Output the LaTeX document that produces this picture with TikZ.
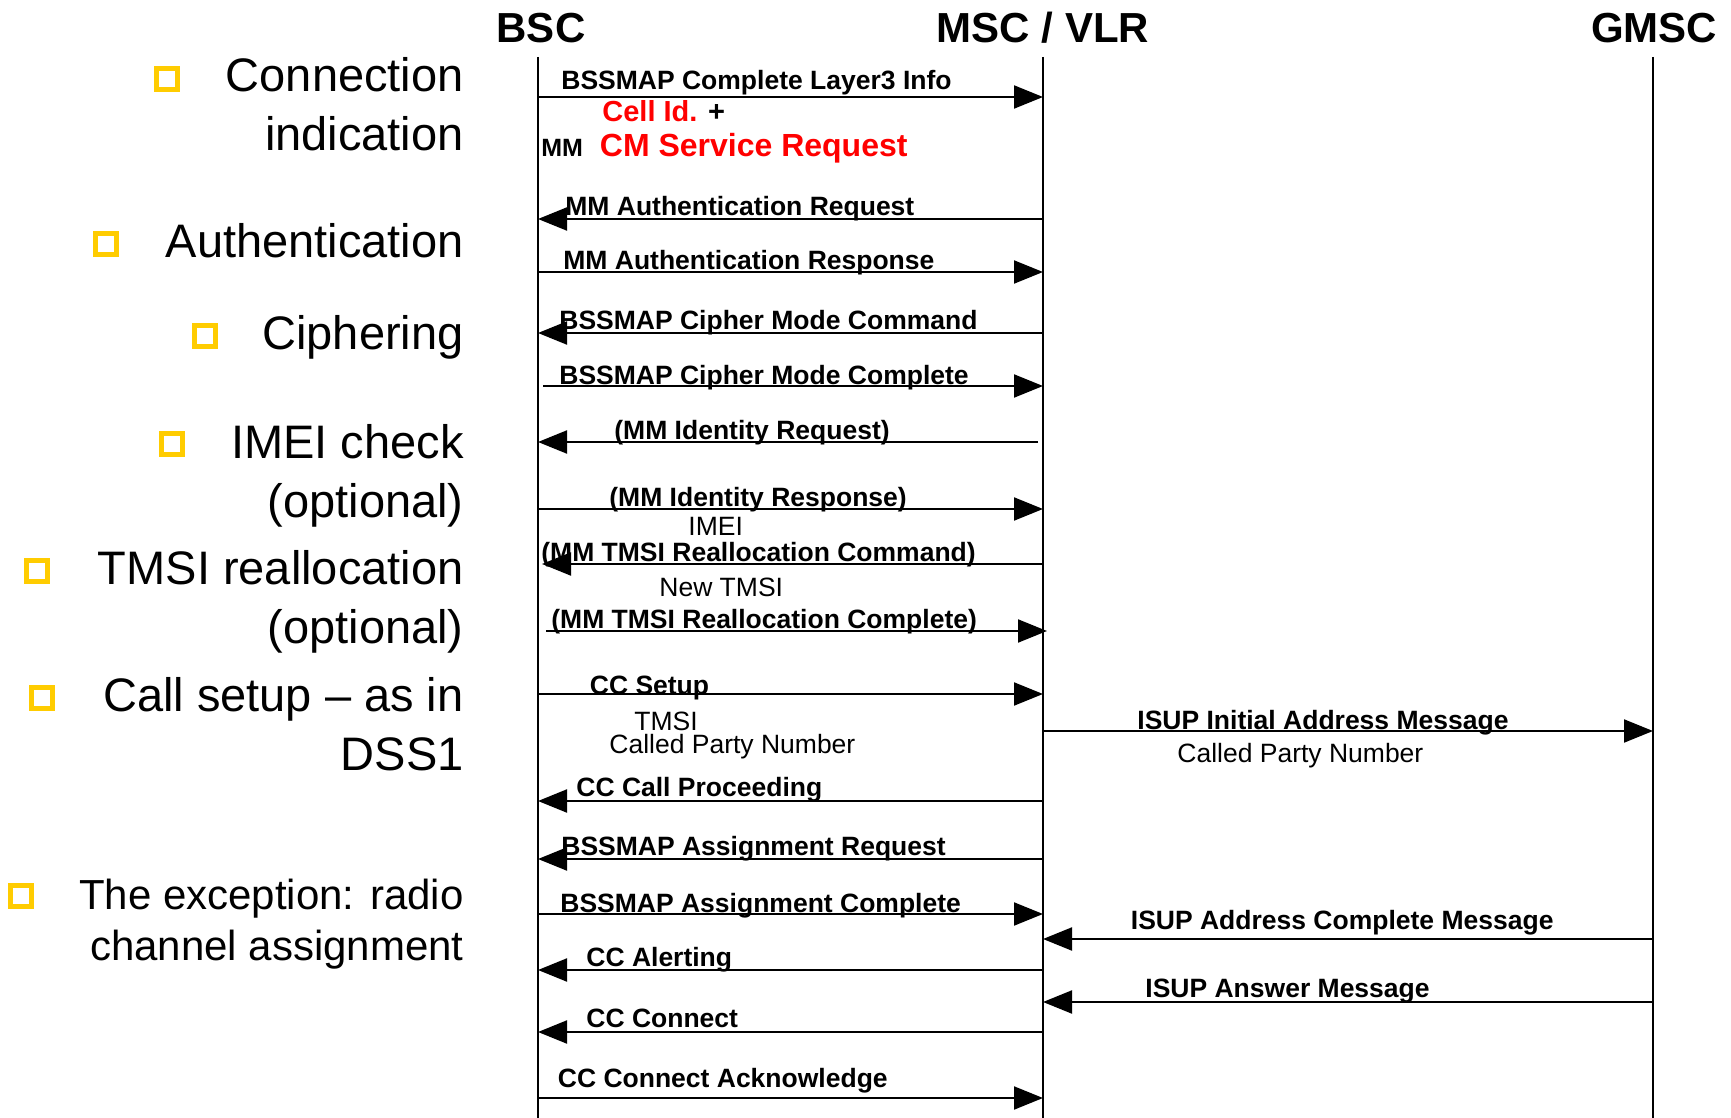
\documentclass[tikz,border=0pt]{standalone}
\usepackage{fontspec}
\setmainfont{Liberation Sans}
\usetikzlibrary{arrows.meta}
\usepackage{xcolor}
\definecolor{bulgold}{RGB}{255,204,0}
\tikzset{
  life/.style={line width=0.8pt},
  msg/.style={line width=1pt,-{Triangle[length=14.5pt,width=11.5pt]}},
  lbl/.style={anchor=base west,inner sep=0pt,font=\fontsize{13.25}{16}\selectfont\bfseries},
  note/.style={anchor=base west,inner sep=0pt,font=\fontsize{13.25}{16}\selectfont},
  hdr/.style={anchor=base,inner sep=0pt,font=\fontsize{21}{25}\selectfont\bfseries},
  topic/.style={anchor=base east,inner sep=0pt,align=right,font=\fontsize{23.5}{29.5}\selectfont},
  bul/.style={draw=bulgold,line width=2.5pt,minimum size=10.5pt,inner sep=0pt}
}
\begin{document}
\begin{tikzpicture}[x=0.5pt,y=-0.5pt]
\useasboundingbox (0,0) rectangle (1731,1118);
\node[hdr] (bsc) at (541,42.6) {BSC};
\node[hdr] (msc) at (1043,42.6) {MSC / VLR};
\node[hdr] (gmsc) at (1654,42.6) {GMSC};
\coordinate (bscT) at (538,57); \coordinate (bscE) at (538,1118);
\coordinate (mscT) at (1043,57); \coordinate (mscE) at (1043,1118);
\coordinate (gmscT) at (1653,57); \coordinate (gmscE) at (1653,1118);
\draw[life] (bscT) -- (bscE);
\draw[life] (mscT) -- (mscE);
\draw[life] (gmscT) -- (gmscE);

\node[bul] (k1) at (167,79) {};
\node[topic] (t1) at (464,151) {Connection\\indication};
\node[bul] (k2) at (106,244) {};
\node[topic] (t2) at (464,258) {Authentication};
\node[bul] (k3) at (205,336) {};
\node[topic] (t3) at (464,350) {Ciphering};
\node[bul] (k4) at (172,444) {};
\node[topic] (t4) at (464,517) {IMEI check\\(optional)};
\node[bul] (k5) at (37,571) {};
\node[topic] (t5) at (464,643) {TMSI reallocation\\(optional)};
\node[bul] (k6) at (42,698) {};
\node[topic] (t6) at (464,770) {Call setup -- as in\\DSS1};
\node[bul] (k7) at (21,896) {};
\node[topic,font=\fontsize{21}{25.5}\selectfont] (t7) at (464,960) {The exception: radio\\channel assignment};

\coordinate (b1) at (538,97); \coordinate (m1) at (1043,97);
\draw[msg] (b1) -- (m1);
\node[lbl] (l1) at (561,90) {BSSMAP Complete Layer3 Info};
\node[lbl,font=\fontsize{14.5}{17}\selectfont\bfseries] (cell) at (602,122) {\textcolor{red}{Cell Id.} +};
\node[lbl,font=\fontsize{12.5}{15}\selectfont\bfseries] (mm) at (541,157) {MM};
\node[lbl,font=\fontsize{16}{19}\selectfont\bfseries,text=red] (cmsr) at (599.5,157) {CM Service Request};

\coordinate (b2) at (538,219); \coordinate (m2) at (1043,219);
\draw[msg] (m2) -- (b2);
\node[lbl] (l2) at (565,215.5) {MM Authentication Request};

\coordinate (b3) at (538,272); \coordinate (m3) at (1043,272);
\draw[msg] (b3) -- (m3);
\node[lbl] (l3) at (563,270) {MM Authentication Response};

\coordinate (b4) at (538,333); \coordinate (m4) at (1043,333);
\draw[msg] (m4) -- (b4);
\node[lbl] (l4) at (559,329.5) {BSSMAP Cipher Mode Command};

\coordinate (b5) at (543,386); \coordinate (m5) at (1043,386);
\draw[msg] (b5) -- (m5);
\node[lbl] (l5) at (559,384.5) {BSSMAP Cipher Mode Complete};

\coordinate (b6) at (538,442); \coordinate (m6) at (1038,442);
\draw[msg] (m6) -- (b6);
\node[lbl] (l6) at (614,439) {(MM Identity Request)};

\coordinate (b7) at (538,509); \coordinate (m7) at (1043,509);
\draw[msg] (b7) -- (m7);
\node[lbl] (l7) at (609,506.5) {(MM Identity Response)};
\node[note] (imei) at (688,535) {IMEI};

\coordinate (b8) at (542,564); \coordinate (m8) at (1043,564);
\draw[msg] (m8) -- (b8);
\node[lbl] (l8) at (541,561.5) {(MM TMSI Reallocation Command)};
\node[note] (newtmsi) at (659,596.5) {New TMSI};

\coordinate (b9) at (546,631); \coordinate (m9) at (1047,631);
\draw[msg] (b9) -- (m9);
\node[lbl] (l9) at (551,628.5) {(MM TMSI Reallocation Complete)};

\coordinate (b10) at (538,694); \coordinate (m10) at (1043,694);
\draw[msg] (b10) -- (m10);
\node[lbl] (l10) at (589.5,694) {CC Setup};
\node[note] (tmsi) at (634,730.5) {TMSI};
\node[note] (cpn1) at (609,753.5) {Called Party Number};

\coordinate (m11) at (1043,731); \coordinate (g11) at (1653,731);
\draw[msg] (m11) -- (g11);
\node[lbl] (l11) at (1137,729.5) {ISUP Initial Address Message};
\node[note] (cpn2) at (1177,762.5) {Called Party Number};

\coordinate (b12) at (538,801); \coordinate (m12) at (1043,801);
\draw[msg] (m12) -- (b12);
\node[lbl] (l12) at (576,796.5) {CC Call Proceeding};

\coordinate (b13) at (538,859); \coordinate (m13) at (1043,859);
\draw[msg] (m13) -- (b13);
\node[lbl] (l13) at (561,855.5) {BSSMAP Assignment Request};

\coordinate (b14) at (538,914); \coordinate (m14) at (1043,914);
\draw[msg] (b14) -- (m14);
\node[lbl] (l14) at (560,912.5) {BSSMAP Assignment Complete};

\coordinate (m15) at (1043,939); \coordinate (g15) at (1653,939);
\draw[msg] (g15) -- (m15);
\node[lbl] (l15) at (1130.5,929.5) {ISUP Address Complete Message};

\coordinate (b16) at (538,970); \coordinate (m16) at (1043,970);
\draw[msg] (m16) -- (b16);
\node[lbl] (l16) at (586,966.5) {CC Alerting};

\coordinate (m17) at (1043,1002); \coordinate (g17) at (1653,1002);
\draw[msg] (g17) -- (m17);
\node[lbl] (l17) at (1145,997.5) {ISUP Answer Message};

\coordinate (b18) at (538,1032); \coordinate (m18) at (1043,1032);
\draw[msg] (m18) -- (b18);
\node[lbl] (l18) at (586,1027.5) {CC Connect};

\coordinate (b19) at (538,1098); \coordinate (m19) at (1043,1098);
\draw[msg] (b19) -- (m19);
\node[lbl] (l19) at (557.5,1087) {CC Connect Acknowledge};
\end{tikzpicture}
\end{document}
